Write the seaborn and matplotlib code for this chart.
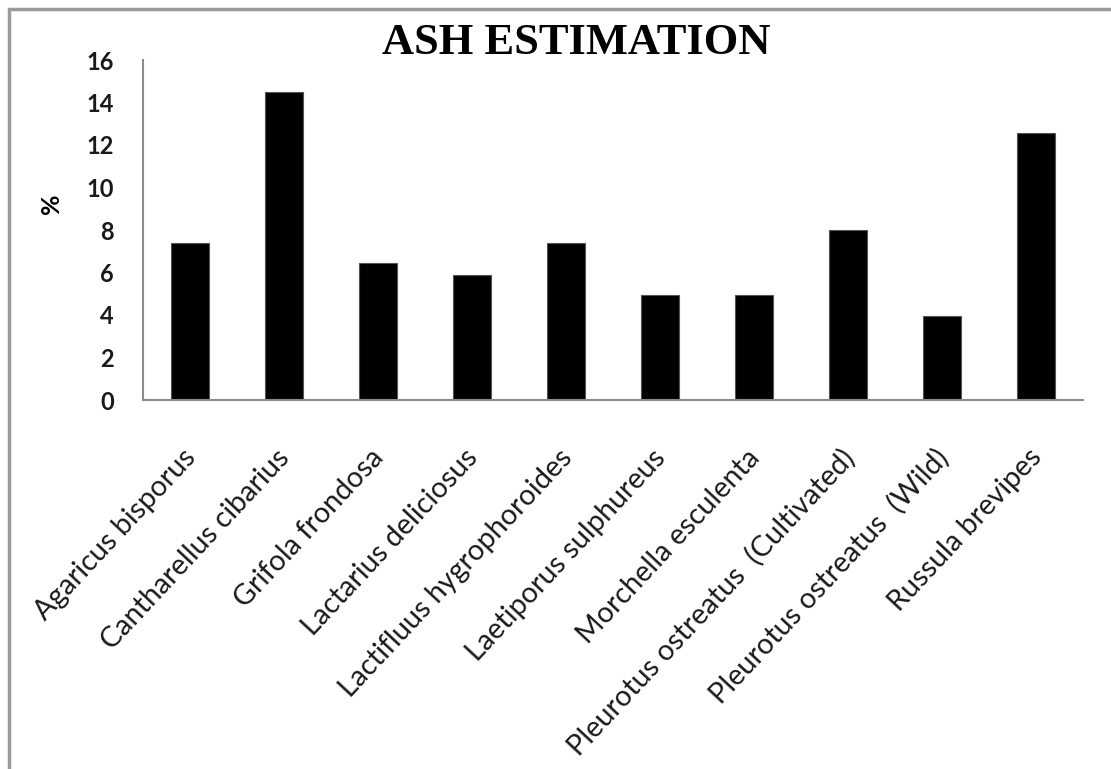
import matplotlib
matplotlib.use("Agg")
import matplotlib.pyplot as plt
import matplotlib.transforms as mtransforms
import seaborn as sns
import pandas as pd
from matplotlib.lines import Line2D

species = [
    "Agaricus bisporus",
    "Cantharellus cibarius",
    "Grifola frondosa",
    "Lactarius deliciosus",
    "Lactifluus hygrophoroides",
    "Laetiporus sulphureus",
    "Morchella esculenta",
    "Pleurotus ostreatus  (Cultivated)",
    "Pleurotus ostreatus  (Wild)",
    "Russula brevipes",
]
ash_percent = [7.4, 14.5, 6.45, 5.9, 7.4, 4.95, 4.95, 8.0, 3.95, 12.55]
y_ticks = [0, 2, 4, 6, 8, 10, 12, 14, 16]

df = pd.DataFrame({"species": species, "ash": ash_percent})

sns.set_style("white")
plt.rcParams["font.family"] = ["Lato", "DejaVu Sans"]

W, H = 1111, 769
fig = plt.figure(figsize=(W / 100, H / 100), dpi=100)
ax = fig.add_axes([143 / W, (H - 400) / H, (1083 - 143) / W, 340 / H])

sns.barplot(data=df, x="species", y="ash", color="black", width=0.4,
            saturation=1, edgecolor="#555555", linewidth=0.8, ax=ax)

axis_grey = "#8c8c8c"
ax.set_ylim(0, 16)
ax.set_xlim(-0.5, len(species) - 0.5)
ax.set_yticks(y_ticks)
ax.set_yticklabels([str(t) for t in y_ticks], fontsize=17, fontweight="bold",
                   color="#1a1a1a")
ax.set_xticks(range(len(species)))
ax.set_xticklabels(species, rotation=47, ha="right", va="top",
                   rotation_mode="anchor", fontsize=20.7, color="#1a1a1a")
ax.set_xticks([i - 0.5 for i in range(len(species) + 1)], minor=True)
ax.tick_params(axis="x", which="major", length=0, pad=32)
ax.tick_params(axis="x", which="minor", length=8, width=1.5, color=axis_grey,
               direction="out")
ax.tick_params(axis="y", length=7, width=1.5, color=axis_grey, direction="out",
               pad=14)

# shift the slanted category labels slightly left of each bar centre
nudge = mtransforms.ScaledTranslation(-8 / 100, 0, fig.dpi_scale_trans)
for lbl in ax.get_xticklabels():
    lbl.set_transform(lbl.get_transform() + nudge)

for side in ("top", "right"):
    ax.spines[side].set_visible(False)
for side in ("left", "bottom"):
    ax.spines[side].set_color(axis_grey)
    ax.spines[side].set_linewidth(1.5)

ax.set_xlabel("")
ax.set_ylabel("")
fig.text(52 / W, 1 - 204 / H, "%", rotation=90, ha="center", va="center",
         fontsize=18, fontweight="bold", color="black")

fig.text(576 / W, 1 - 43 / H, "ASH ESTIMATION", ha="center", va="center",
         fontsize=32, fontweight="bold", family="Liberation Serif",
         color="black")

# outer frame (left and top edges)
frame_kw = dict(color="#9a9a9a", linewidth=2.5, transform=fig.transFigure)
fig.add_artist(Line2D([9 / W, 9 / W], [0, 1 - 9 / H], **frame_kw))
fig.add_artist(Line2D([9 / W, 1], [1 - 9 / H, 1 - 9 / H], **frame_kw))

fig.savefig("out.png", dpi=100, facecolor="white")
